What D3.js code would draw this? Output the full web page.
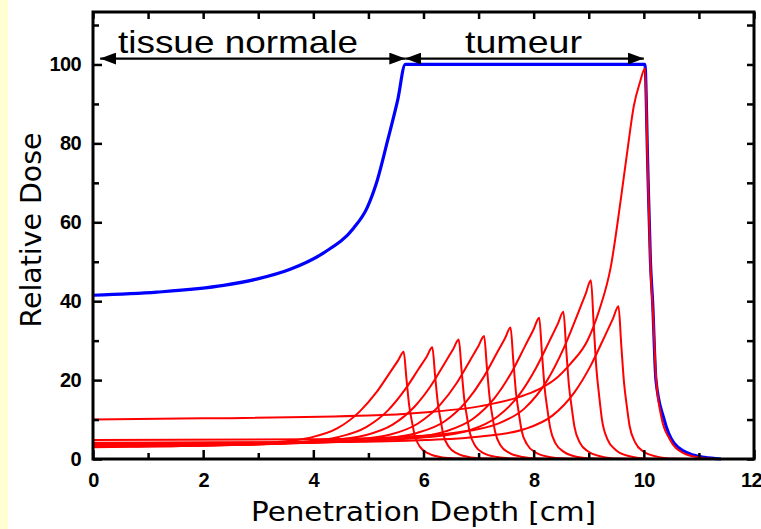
<!DOCTYPE html>
<html>
<head>
<meta charset="utf-8">
<script src="https://cdn.jsdelivr.net/npm/d3@7"></script>
<style>
  html, body { margin: 0; padding: 0; background: #fff; }
  svg { display: block; }
  .tick text { font-family: "Liberation Sans", Arial, sans-serif; font-weight: bold; font-size: 20px; letter-spacing: -0.6px; fill: #000; }
  .tick line { stroke: #000; stroke-width: 2.5; }
</style>
</head>
<body>
<svg id="chart" width="761" height="529"></svg>
<script>
// Spread-out Bragg peak (blue) : depth [cm] / relative dose
const sobpDepth = [0, 1.16, 2.37, 2.97, 3.58, 4.18, 4.73, 4.98, 5.16, 5.35, 5.53, 5.67, 10.02, 10.07, 10.12, 10.16, 10.22, 10.36, 10.55, 10.9, 11.1, 11.4];
const sobpDose  = [41.5, 42.3, 44.0, 45.6, 48.1, 52.2, 58.5, 63.8, 70.6, 80.8, 90.9, 100, 100, 75, 50, 39.7, 20, 10.4, 4, 1, 0.4, 0];

// Individual weighted Bragg peaks (red), [depth, dose]
const bragg1 = [[0,3.0],[0.64,3.1],[2.14,3.5],[3.14,4.1],[3.94,5.4],[4.44,7.8],[4.84,12.0],[5.14,16.8],[5.39,21.9],[5.54,25.0],[5.64,27.2],[5.69,20.4],[5.74,13.6],[5.79,9.5],[5.84,6.0],[5.94,3.0],[6.09,1.4],[6.34,0.4],[6.64,0.1],[6.94,0]];
const bragg2 = [[0,3.1],[1.16,3.2],[2.66,3.6],[3.66,4.2],[4.46,5.6],[4.96,8.1],[5.36,12.4],[5.66,17.5],[5.91,22.8],[6.06,26.0],[6.16,28.3],[6.21,21.2],[6.26,14.2],[6.31,9.9],[6.36,6.2],[6.46,3.1],[6.61,1.4],[6.86,0.4],[7.16,0.1],[7.46,0]];
const bragg3 = [[0,3.3],[1.64,3.4],[3.14,3.8],[4.14,4.5],[4.94,6.0],[5.44,8.7],[5.84,13.3],[6.14,18.7],[6.39,24.4],[6.54,27.9],[6.64,30.3],[6.69,22.7],[6.74,15.2],[6.79,10.6],[6.84,6.7],[6.94,3.3],[7.09,1.5],[7.34,0.5],[7.64,0.1],[7.94,0]];
const bragg4 = [[0,3.4],[2.10,3.5],[3.60,4.0],[4.60,4.7],[5.40,6.2],[5.90,9.0],[6.30,13.7],[6.60,19.2],[6.85,25.1],[7.00,28.7],[7.10,31.2],[7.15,23.4],[7.20,15.6],[7.25,10.9],[7.30,6.9],[7.40,3.4],[7.55,1.6],[7.80,0.5],[8.10,0.1],[8.40,0]];
const bragg5 = [[0,3.6],[2.58,3.7],[4.08,4.2],[5.08,4.9],[5.88,6.6],[6.38,9.5],[6.78,14.6],[7.08,20.5],[7.33,26.8],[7.48,30.6],[7.58,33.3],[7.63,25.0],[7.68,16.7],[7.73,11.7],[7.78,7.3],[7.88,3.7],[8.03,1.7],[8.28,0.5],[8.58,0.1],[8.88,0]];
const bragg6 = [[0,3.8],[3.10,4.0],[4.60,4.4],[5.60,5.2],[6.40,7.0],[6.90,10.2],[7.30,15.6],[7.60,22.0],[7.85,28.8],[8.00,32.9],[8.10,35.8],[8.15,26.9],[8.20,17.9],[8.25,12.5],[8.30,7.9],[8.40,3.9],[8.55,1.8],[8.80,0.5],[9.10,0.1],[9.40,0]];
const bragg7 = [[0,4.0],[3.54,4.2],[5.04,4.7],[6.04,5.5],[6.84,7.3],[7.34,10.7],[7.74,16.3],[8.04,23.0],[8.29,30.0],[8.44,34.3],[8.54,37.3],[8.59,28.0],[8.64,18.7],[8.69,13.1],[8.74,8.2],[8.84,4.1],[8.99,1.9],[9.24,0.6],[9.54,0.1],[9.84,0]];
const bragg8 = [[0,4.8],[4.04,5.0],[5.54,5.6],[6.54,6.6],[7.34,8.9],[7.84,12.9],[8.24,19.8],[8.54,27.9],[8.79,36.4],[8.94,41.7],[9.04,45.3],[9.09,34.0],[9.14,22.7],[9.19,15.9],[9.24,10.0],[9.34,5.0],[9.49,2.3],[9.74,0.7],[10.04,0.1],[10.34,0]];
const bragg9 = [[0,4.1],[4.54,4.3],[6.04,4.8],[7.04,5.7],[7.84,7.6],[8.34,11.0],[8.74,16.9],[9.04,23.8],[9.29,31.1],[9.44,35.6],[9.54,38.7],[9.59,29.0],[9.64,19.4],[9.69,13.5],[9.74,8.5],[9.84,4.3],[9.99,1.9],[10.24,0.6],[10.54,0.1],[10.84,0]];
const bragg10 = [[0,10.0],[2.0,10.3],[5.0,11.0],[6.0,11.8],[7.04,13.4],[7.76,15.8],[8.07,17.5],[8.37,20],[8.67,24.2],[8.98,30.1],[9.19,37.7],[9.4,48.7],[9.58,65.6],[9.7,78],[9.82,89.6],[9.93,95.5],[10.02,99],[10.07,74],[10.12,49],[10.17,36],[10.22,21],[10.32,10.5],[10.47,5],[10.72,1.5],[11.0,0.4],[11.3,0]];
const braggCurves = [bragg1, bragg2, bragg3, bragg4, bragg5, bragg6, bragg7, bragg8, bragg9, bragg10];

// Axis ticks
const xMajorTicks = [0, 2, 4, 6, 8, 10, 12];
const xMinorTicks = [1, 3, 5, 7, 9, 11];
const yMajorTicks = [0, 20, 40, 60, 80, 100];
const yMinorTicks = [10, 30, 50, 70, 90, 110];

// Range annotations (depth from / to, dose level, label)
const rangeLabels = ['tissue normale', 'tumeur'];
const rangeFrom = [0.13, 5.67];
const rangeTo = [5.67, 10.0];
const rangeLevel = 101.5;

const svg = d3.select('#chart');
const margin = { left: 93, right: 7, top: 12, bottom: 70 };
const W = 761, H = 529;

// pale strip on the left edge
svg.append('rect').attr('x', 0).attr('y', 0).attr('width', 8).attr('height', H).attr('fill', '#FFFFD2');

const x = d3.scaleLinear().domain([0, 12]).range([margin.left, W - margin.right]);
const y = d3.scaleLinear().domain([0, 113.3]).range([H - margin.bottom, margin.top]);

const defs = svg.append('defs');
defs.append('marker')
    .attr('id', 'arrow')
    .attr('viewBox', '0 0 16 12')
    .attr('refX', 16).attr('refY', 6)
    .attr('markerWidth', 16).attr('markerHeight', 12)
    .attr('markerUnits', 'userSpaceOnUse')
    .attr('orient', 'auto-start-reverse')
  .append('path')
    .attr('d', 'M0,0 L16,6 L0,12 Z')
    .attr('fill', '#000');

const line = d3.line()
  .x((d) => x(d[0]))
  .y((d) => y(d[1]))
  .curve(d3.curveMonotoneX);

// Blue SOBP first, red peaks drawn on top
svg.append('path')
  .datum(sobpDepth.map((d, i) => [d, sobpDose[i]]))
  .attr('d', line)
  .attr('fill', 'none')
  .attr('stroke', '#0000FF')
  .attr('stroke-width', 3.2)
  .attr('stroke-linejoin', 'round');

svg.append('g').selectAll('path')
  .data(braggCurves)
  .enter().append('path')
    .attr('d', line)
    .attr('fill', 'none')
    .attr('stroke', '#FF0000')
    .attr('stroke-width', 2)
    .attr('stroke-linejoin', 'round');

// Axes: inward ticks on all four sides
const bottom = H - margin.bottom;
const right = W - margin.right;

svg.append('g')
  .attr('transform', `translate(0,${bottom})`)
  .call(d3.axisBottom(x).tickValues(xMajorTicks).tickFormat(d3.format('d'))
    .tickSizeInner(-9).tickSizeOuter(0).tickPadding(14))
  .call((g) => g.select('.domain').remove())
  .call((g) => g.selectAll('.tick text').filter((d) => d === 12).attr('dx', -3));
svg.append('g')
  .attr('transform', `translate(0,${bottom})`)
  .call(d3.axisBottom(x).tickValues(xMinorTicks).tickFormat('').tickSizeInner(-6).tickSizeOuter(0))
  .call((g) => g.select('.domain').remove());
svg.append('g')
  .attr('transform', `translate(0,${margin.top})`)
  .call(d3.axisTop(x).tickValues(xMajorTicks.concat(xMinorTicks)).tickFormat('').tickSizeInner(-7).tickSizeOuter(0))
  .call((g) => g.select('.domain').remove());

svg.append('g')
  .attr('transform', `translate(${margin.left},0)`)
  .call(d3.axisLeft(y).tickValues(yMajorTicks).tickFormat(d3.format('d'))
    .tickSizeInner(-9).tickSizeOuter(0).tickPadding(12))
  .call((g) => g.select('.domain').remove());
svg.append('g')
  .attr('transform', `translate(${margin.left},0)`)
  .call(d3.axisLeft(y).tickValues(yMinorTicks).tickFormat('').tickSizeInner(-6).tickSizeOuter(0))
  .call((g) => g.select('.domain').remove());
svg.append('g')
  .attr('transform', `translate(${right},0)`)
  .call(d3.axisRight(y).tickValues(yMajorTicks.concat(yMinorTicks)).tickFormat('').tickSizeInner(-7).tickSizeOuter(0))
  .call((g) => g.select('.domain').remove());

// frame
svg.append('rect')
  .attr('x', margin.left).attr('y', margin.top)
  .attr('width', right - margin.left).attr('height', bottom - margin.top)
  .attr('fill', 'none').attr('stroke', '#000').attr('stroke-width', 3);

// Range arrows with labels
rangeLabels.forEach((lbl, i) => {
  svg.append('line')
    .attr('x1', x(rangeFrom[i])).attr('x2', x(rangeTo[i]))
    .attr('y1', y(rangeLevel)).attr('y2', y(rangeLevel))
    .attr('stroke', '#000').attr('stroke-width', 2.2)
    .attr('marker-start', 'url(#arrow)')
    .attr('marker-end', 'url(#arrow)');
});
svg.append('text')
  .attr('x', 118).attr('y', 53)
  .attr('textLength', 240).attr('lengthAdjust', 'spacingAndGlyphs')
  .style('font-family', '"Liberation Sans", Arial, sans-serif').style('font-size', '32px')
  .text(rangeLabels[0]);
svg.append('text')
  .attr('x', 465).attr('y', 53)
  .attr('textLength', 117).attr('lengthAdjust', 'spacingAndGlyphs')
  .style('font-family', '"Liberation Sans", Arial, sans-serif').style('font-size', '32px')
  .text(rangeLabels[1]);

// Axis titles
svg.append('text')
  .attr('x', (margin.left + right) / 2).attr('y', 521)
  .attr('text-anchor', 'middle')
  .attr('textLength', 345).attr('lengthAdjust', 'spacingAndGlyphs')
  .style('font-family', '"DejaVu Sans", sans-serif').style('font-size', '27px')
  .text('Penetration Depth [cm]');

svg.append('text')
  .attr('transform', 'translate(41,230) rotate(-90)')
  .attr('text-anchor', 'middle')
  .attr('textLength', 195).attr('lengthAdjust', 'spacingAndGlyphs')
  .style('font-family', '"DejaVu Sans", sans-serif').style('font-size', '28px')
  .text('Relative Dose');
</script>
</body>
</html>
